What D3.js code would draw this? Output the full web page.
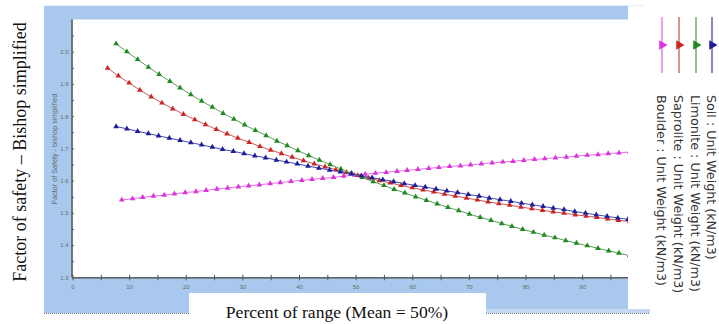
<!DOCTYPE html>
<html><head><meta charset="utf-8">
<script src="https://cdn.jsdelivr.net/npm/d3@7"></script>
<style>body{margin:0;background:#fff;overflow:hidden}svg{display:block}</style>
</head><body>
<svg id="c" width="719" height="324"></svg>
<script>
// ---- data ----
const soilX = [7.7,9.6,11.5,13.4,15.2,17.1,19.0,20.9,22.8,24.7,26.5,28.4,30.3,32.2,34.1,36.0,37.8,39.7,41.6,43.5,45.4,47.3,49.2,51.0,52.9,54.8,56.7,58.6,60.5,62.3,64.2,66.1,68.0,69.9,71.8,73.6,75.5,77.4,79.3,81.2,83.1,84.9,86.8,88.7,90.6,92.5,94.4,96.3,98.1];
const soilY = [1.768,1.761,1.753,1.746,1.739,1.732,1.725,1.718,1.711,1.704,1.697,1.691,1.684,1.677,1.671,1.664,1.658,1.652,1.645,1.639,1.633,1.627,1.621,1.615,1.609,1.603,1.597,1.591,1.585,1.580,1.574,1.568,1.563,1.557,1.552,1.546,1.541,1.536,1.530,1.525,1.520,1.515,1.510,1.504,1.499,1.494,1.489,1.484,1.480];
const limoniteX = [7.7,9.6,11.5,13.4,15.3,17.2,19.0,20.9,22.8,24.7,26.6,28.5,30.4,32.3,34.2,36.1,37.9,39.8,41.7,43.6,45.5,47.4,49.3,51.2,53.1,55.0,56.8,58.7,60.6,62.5,64.4,66.3,68.2,70.1,72.0,73.9,75.8,77.6,79.5,81.4,83.3,85.2,87.1,89.0,90.9,92.8,94.7,96.5,98.4];
const limoniteY = [2.025,2.000,1.976,1.952,1.930,1.908,1.888,1.867,1.847,1.828,1.809,1.791,1.773,1.756,1.740,1.723,1.709,1.693,1.678,1.664,1.650,1.636,1.623,1.610,1.597,1.585,1.573,1.562,1.550,1.539,1.528,1.517,1.507,1.496,1.486,1.477,1.467,1.458,1.449,1.440,1.431,1.423,1.414,1.406,1.398,1.390,1.382,1.375,1.367];
const saproliteX = [6.2,8.1,10.0,11.9,13.9,15.8,17.7,19.6,21.6,23.5,25.4,27.3,29.2,31.2,33.1,35.0,36.9,38.8,40.8,42.7,44.6,46.5,48.4,50.4,52.3,54.2,56.1,58.0,60.0,61.9,63.8,65.7,67.6,69.6,71.5,73.4,75.3,77.2,79.2,81.1,83.0,84.9,86.8,88.8,90.7,92.6,94.5,96.4,98.4];
const saproliteY = [1.949,1.925,1.903,1.881,1.860,1.841,1.823,1.806,1.789,1.774,1.759,1.745,1.732,1.719,1.706,1.695,1.684,1.673,1.662,1.652,1.643,1.634,1.625,1.616,1.608,1.600,1.593,1.585,1.578,1.571,1.565,1.558,1.552,1.546,1.540,1.534,1.529,1.524,1.518,1.513,1.508,1.503,1.499,1.494,1.490,1.486,1.481,1.477,1.473];
const boulderX = [8.7,10.6,12.4,14.3,16.2,18.0,19.9,21.8,23.6,25.5,27.4,29.3,31.1,33.0,34.9,36.7,38.6,40.5,42.3,44.2,46.1,47.9,49.8,51.7,53.5,55.4,57.3,59.1,61.0,62.9,64.7,66.6,68.5,70.3,72.2,74.1,76.0,77.8,79.7,81.6,83.4,85.3,87.2,89.0,90.9,92.8,94.6,96.5,98.4];
const boulderY = [1.540,1.544,1.548,1.552,1.555,1.559,1.563,1.566,1.570,1.574,1.577,1.581,1.584,1.587,1.591,1.594,1.598,1.601,1.604,1.607,1.610,1.614,1.617,1.620,1.623,1.626,1.629,1.632,1.635,1.638,1.641,1.644,1.646,1.649,1.652,1.655,1.658,1.660,1.663,1.666,1.668,1.671,1.673,1.676,1.679,1.681,1.684,1.686,1.689];
const seriesNames = ["Soil : Unit Weight (kN/m3)","Limonite : Unit Weight (kN/m3)","Saprolite : Unit Weight (kN/m3)","Boulder : Unit Weight (kN/m3)"];
const xMajorTicks = [0,10,20,30,40,50,60,70,80,90];
const xMinorTicks = [5,15,25,35,45,55,65,75,85,95];
const yMajorTicks = [1.3,1.4,1.5,1.6,1.7,1.8,1.9,2.0];
const yMinorTicks = [1.35,1.45,1.55,1.65,1.75,1.85,1.95,2.05];
const xTitle = "Percent of range (Mean = 50%)";
const yTitleSmall = "Factor of Safety - bishop simplified";
const yTitleBig = "Factor of safety \u2013 Bishop simplified";

// ---- styling ----
const markerColors = ["#1c1c9c","#1f8a1f","#cf2323","#dd33dd"];
const lineColors = ["#4a4aa6","#5c9e5c","#c45a5a","#e070e0"];
const series = [
  {x: soilX, y: soilY}, {x: limoniteX, y: limoniteY},
  {x: saproliteX, y: saproliteY}, {x: boulderX, y: boulderY}
];

const svg = d3.select("#c");
const BLUE = "#a8c9ed";
const L = 72.5, R = 628, T = 19.5, B = 277.3;

// frame background
svg.append("rect").attr("x",44).attr("y",5).attr("width",600).attr("height",1).attr("fill","#e6eef8");
svg.append("rect").attr("x",44).attr("y",6).attr("width",R-44).attr("height",313-6).attr("fill",BLUE);
svg.append("rect").attr("x",486).attr("y",309).attr("width",164).attr("height",4).attr("fill","#c3d8f1");
svg.append("line").attr("x1",44).attr("x2",189).attr("y1",313.5).attr("y2",313.5).attr("stroke","#6d7784").attr("stroke-dasharray","1,1");
svg.append("line").attr("x1",486).attr("x2",650).attr("y1",313.5).attr("y2",313.5).attr("stroke","#6d7784").attr("stroke-dasharray","1,1");
svg.append("rect").attr("x",L).attr("y",T).attr("width",R-L).attr("height",B-T).attr("fill","#fff");
// white box for x title
svg.append("rect").attr("x",189).attr("y",293).attr("width",297).attr("height",31).attr("fill","#fff");

const x = d3.scaleLinear().domain([0, 98.1]).range([L, R]);
const y = d3.scaleLinear().domain([1.3, 2.1]).range([B, T]);

// axes
const gx = svg.append("g").attr("transform",`translate(0,${B})`);
gx.call(d3.axisBottom(x).tickValues(xMajorTicks).tickSize(3).tickFormat(d3.format("d")));
gx.append("g").call(d3.axisBottom(x).tickValues(xMinorTicks).tickSize(3).tickFormat(""));
gx.selectAll(".tick line").attr("y1",-2.5);
gx.selectAll(".domain").attr("d",`M${L},0.5H${R}`);
const gy = svg.append("g").attr("transform",`translate(${L},0)`);
gy.call(d3.axisLeft(y).tickValues(yMajorTicks).tickSize(3).tickFormat(d3.format(".1f")));
gy.append("g").call(d3.axisLeft(y).tickValues(yMinorTicks).tickSize(2).tickFormat(""));
gy.selectAll(".tick line").attr("x2",1.5);
gy.selectAll(".domain").attr("d",`M-0.5,${B}V${T}`);
svg.selectAll(".domain").attr("stroke","#555").attr("fill","none");
svg.selectAll(".tick line").attr("stroke","#555");
svg.selectAll(".tick text").attr("fill","#6b6b6b").style("font-family","Arial, 'Liberation Sans', sans-serif").style("font-size","6px");
gx.selectAll(".tick text").attr("dy","0.9em");
gy.selectAll(".tick text").attr("x",-4);

// clip
svg.append("clipPath").attr("id","pc").append("rect").attr("x",L).attr("y",T-4).attr("width",R-L).attr("height",B-T+4);
const plot = svg.append("g").attr("clip-path","url(#pc)");
const line = d3.line().x(d=>x(d[0])).y(d=>y(d[1]));
const tri = d3.symbol().type(d3.symbolTriangle).size(14);
// draw in order boulder, saprolite, limonite, soil
[3,2,1,0].forEach(i=>{
  const s = series[i];
  const pts = s.x.map((v,k)=>[v, s.y[k]]);
  plot.append("path").datum(pts).attr("d",line).attr("fill","none").attr("stroke",lineColors[i]).attr("stroke-width",1);
  plot.selectAll(null).data(pts).enter().append("path")
    .attr("d",tri).attr("transform",d=>`translate(${x(d[0])},${y(d[1])})`).attr("fill",markerColors[i]);
});

// axis titles
svg.append("text").attr("transform","translate(54.5,149) rotate(-90)").attr("text-anchor","middle")
  .attr("dominant-baseline","central").style("font-family","Arial, 'Liberation Sans', sans-serif").style("font-size","7.2px").attr("fill","#666").text(yTitleSmall);
svg.append("text").attr("transform","translate(20,152) rotate(-90)").attr("text-anchor","middle")
  .attr("dominant-baseline","central").style("font-family","'Liberation Serif','Times New Roman',serif").style("font-size","18px").attr("fill","#111").text(yTitleBig);
svg.append("text").attr("x",337).attr("y",318).attr("text-anchor","middle")
  .style("font-family","'Liberation Serif','Times New Roman',serif").style("font-size","17.6px").attr("fill","#111").text(xTitle);

// legend (rotated)
const legX = [712, 696, 679, 662];
seriesNames.forEach((name,i)=>{
  const g = svg.append("g");
  g.append("line").attr("x1",legX[i]).attr("x2",legX[i]).attr("y1",17).attr("y2",73).attr("stroke",lineColors[i]).attr("stroke-width",1.3);
  g.append("path").attr("d",d3.symbol().type(d3.symbolTriangle).size(40)).attr("transform",`translate(${legX[i]},45) rotate(90)`).attr("fill",markerColors[i]);
  g.append("text").attr("transform",`translate(${legX[i]-0.5},95) rotate(90)`).attr("dominant-baseline","central")
    .style("font-family","'DejaVu Sans', Verdana, sans-serif").style("font-size","12.7px").attr("fill","#333").text(name);
});
</script>
</body></html>
